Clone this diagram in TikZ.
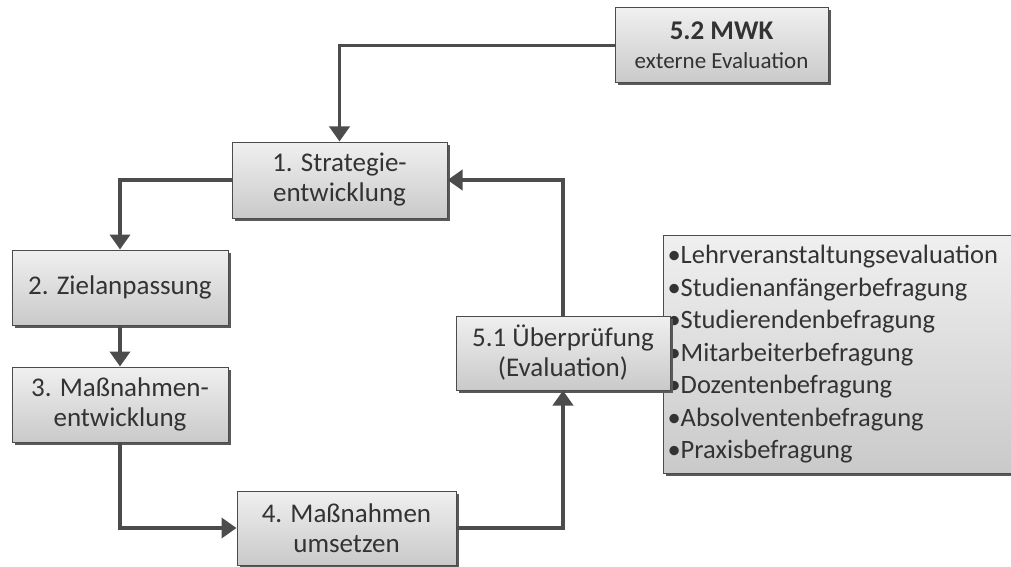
\documentclass[tikz,border=0pt]{standalone}
\usepackage{fontspec}
\setmainfont{Carlito}
\usetikzlibrary{arrows.meta,shadows}
\begin{document}
\begin{tikzpicture}[x=1pt,y=-1pt,
  box/.style={draw=black!70, line width=1pt, top color=gray!12, bottom color=gray!42,
    align=center, inner sep=2pt, font=\fontsize{27}{30}\selectfont\color{black!80},
    drop shadow={shadow xshift=2.5pt, shadow yshift=-2.5pt, fill=black!65, opacity=1}},
  conn/.style={draw=black!70, line width=3.8pt, -{Triangle[length=15pt,width=20pt]}}]
\useasboundingbox (0,0) rectangle (1011,567);
\fill[white] (0,0) rectangle (1011,567);
% list box
\node[box, anchor=north west, minimum width=360pt, minimum height=238pt, align=left,
  font=\fontsize{26.5}{32.5}\selectfont\color{black!80}, text width=352pt, inner sep=3pt] (list) at (663,235)
  {•Lehrveranstaltungsevaluation\\•Studienanfängerbefragung\\•Studierendenbefragung\\•Mitarbeiterbefragung\\•Dozentenbefragung\\•Absolventenbefragung\\•Praxisbefragung};
\node[box, minimum width=213pt, minimum height=75pt] (n52) at (721.5,45.5)
  {\textbf{5.2 MWK}\\[-1pt]{\fontsize{23}{26}\selectfont externe Evaluation}};
\node[box, minimum width=215pt, minimum height=76pt] (n1) at (339.5,180) {1. Strategie-\\entwicklung};
\node[box, minimum width=216pt, minimum height=75pt] (n2) at (120,287.5) {2. Zielanpassung};
\node[box, minimum width=216pt, minimum height=75pt] (n3) at (120,404.5) {3. Maßnahmen-\\entwicklung};
\node[box, minimum width=219pt, minimum height=74pt] (n4) at (346.5,528) {4. Maßnahmen\\umsetzen};
\node[box, minimum width=214pt, minimum height=74pt] (n51) at (563,353) {5.1 Überprüfung\\(Evaluation)};
% connectors
\draw[conn] (n52.west) -| (n1.north);
\draw[conn] (n1.west) -| (n2.north);
\draw[conn] (n2.south) -- (n3.north);
\draw[conn] (n3.south) |- (n4.west);
\draw[conn] (n4.east) -| (n51.south);
\draw[conn] (n51.north) |- (n1.east);
\end{tikzpicture}
\end{document}
